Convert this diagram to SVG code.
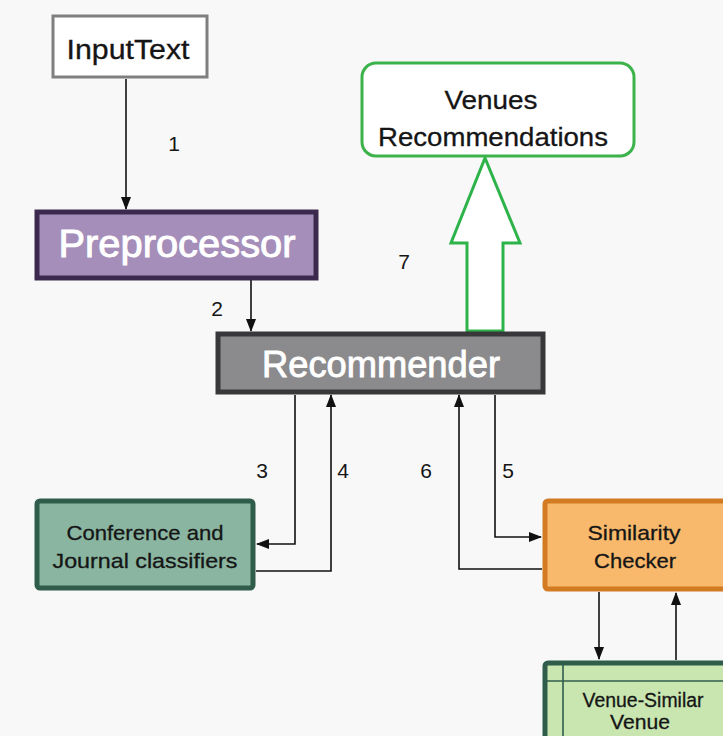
<svg xmlns="http://www.w3.org/2000/svg" width="723" height="736" viewBox="0 0 723 736">
  <defs>
    <marker id="arrow" markerWidth="13" markerHeight="10" refX="12" refY="5" orient="auto" markerUnits="userSpaceOnUse">
      <path d="M0,0 L13,5 L0,10 Z" fill="#111"/>
    </marker>
    <style>
      text { font-family: "Liberation Sans", Arial, sans-serif; text-anchor: middle; dominant-baseline: central; }
      .dark { fill: #151515; stroke: #151515; stroke-width: 0.3; }
      .light { fill: #ffffff; stroke: #ffffff; stroke-width: 0.9; }
      .conn { fill: none; stroke: #111; stroke-width: 1.6; }
      .num { font-size: 21px; fill: #151515; }
    </style>
  </defs>

  <rect x="0" y="0" width="723" height="736" fill="#f8f8f8"/>

  <!-- connectors -->
  <g id="connectors">
    <path class="conn" d="M126,79 V209" marker-end="url(#arrow)"/>
    <path class="conn" d="M251,280 V331" marker-end="url(#arrow)"/>
    <path class="conn" d="M295,395 V544 H257" marker-end="url(#arrow)"/>
    <path class="conn" d="M256,571 H331 V395" marker-end="url(#arrow)"/>
    <path class="conn" d="M542,569 H459 V395" marker-end="url(#arrow)"/>
    <path class="conn" d="M495,395 V537 H541" marker-end="url(#arrow)"/>
    <path class="conn" d="M599,592 V659" marker-end="url(#arrow)"/>
    <path class="conn" d="M676,660 V593" marker-end="url(#arrow)"/>
    <!-- hollow block arrow to the output box -->
    <path d="M467,331 V243 H451 L485,158 L520,243 H503 V331 Z" fill="#ffffff" stroke="#2eb34b" stroke-width="3" stroke-linejoin="miter"/>

    <text class="num" x="174" y="143">1</text>
    <text class="num" x="217" y="308">2</text>
    <text class="num" x="262" y="470">3</text>
    <text class="num" x="343" y="470">4</text>
    <text class="num" x="508" y="470">5</text>
    <text class="num" x="426" y="470">6</text>
    <text class="num" x="404" y="261">7</text>
  </g>

  <g id="input-text">
    <rect x="53" y="16" width="154" height="61" fill="#ffffff" stroke="#7f7f7f" stroke-width="3"/>
    <text class="dark" x="128" y="50" font-size="27" textLength="123" lengthAdjust="spacingAndGlyphs">InputText</text>
  </g>

  <g id="preprocessor">
    <rect x="37" y="212" width="279" height="66" fill="#a58fba" stroke="#3c2a4e" stroke-width="5"/>
    <text class="light" x="177" y="244" font-size="38" textLength="237" lengthAdjust="spacingAndGlyphs">Preprocessor</text>
  </g>

  <g id="recommender">
    <rect x="218" y="334" width="325" height="58" fill="#8b8b8d" stroke="#38383a" stroke-width="5"/>
    <text class="light" x="381" y="364" font-size="37" textLength="238" lengthAdjust="spacingAndGlyphs">Recommender</text>
  </g>

  <g id="venues-recommendations">
    <rect x="362" y="63" width="272" height="93" rx="14" fill="#ffffff" stroke="#3cb34a" stroke-width="3"/>
    <text class="dark" x="491" y="100" font-size="26" textLength="93" lengthAdjust="spacingAndGlyphs">Venues</text>
    <text class="dark" x="493" y="137" font-size="26" textLength="230" lengthAdjust="spacingAndGlyphs">Recommendations</text>
  </g>

  <g id="classifiers">
    <rect x="37" y="501" width="216" height="87" rx="3" fill="#8ab6a1" stroke="#2f5c4b" stroke-width="5"/>
    <text class="dark" x="145" y="532" font-size="21" textLength="157" lengthAdjust="spacingAndGlyphs">Conference and</text>
    <text class="dark" x="145" y="560" font-size="21" textLength="185" lengthAdjust="spacingAndGlyphs">Journal classifiers</text>
  </g>

  <g id="similarity-checker">
    <rect x="545" y="501" width="184" height="88" rx="3" fill="#f8b96c" stroke="#d27b22" stroke-width="5"/>
    <text class="dark" x="634" y="532" font-size="21" textLength="93" lengthAdjust="spacingAndGlyphs">Similarity</text>
    <text class="dark" x="635" y="560" font-size="21" textLength="82" lengthAdjust="spacingAndGlyphs">Checker</text>
  </g>

  <g id="venue-similar-venue">
    <rect x="545" y="663" width="184" height="80" rx="3" fill="#c9e6b1" stroke="#2f5c4b" stroke-width="5"/>
    <line x1="563" y1="663" x2="563" y2="736" stroke="#2f5c4b" stroke-width="1.6"/>
    <line x1="545" y1="681" x2="723" y2="681" stroke="#2f5c4b" stroke-width="1.6"/>
    <text class="dark" x="643" y="700" font-size="20" textLength="121" lengthAdjust="spacingAndGlyphs">Venue-Similar</text>
    <text class="dark" x="640" y="722" font-size="20" textLength="60" lengthAdjust="spacingAndGlyphs">Venue</text>
  </g>
</svg>
